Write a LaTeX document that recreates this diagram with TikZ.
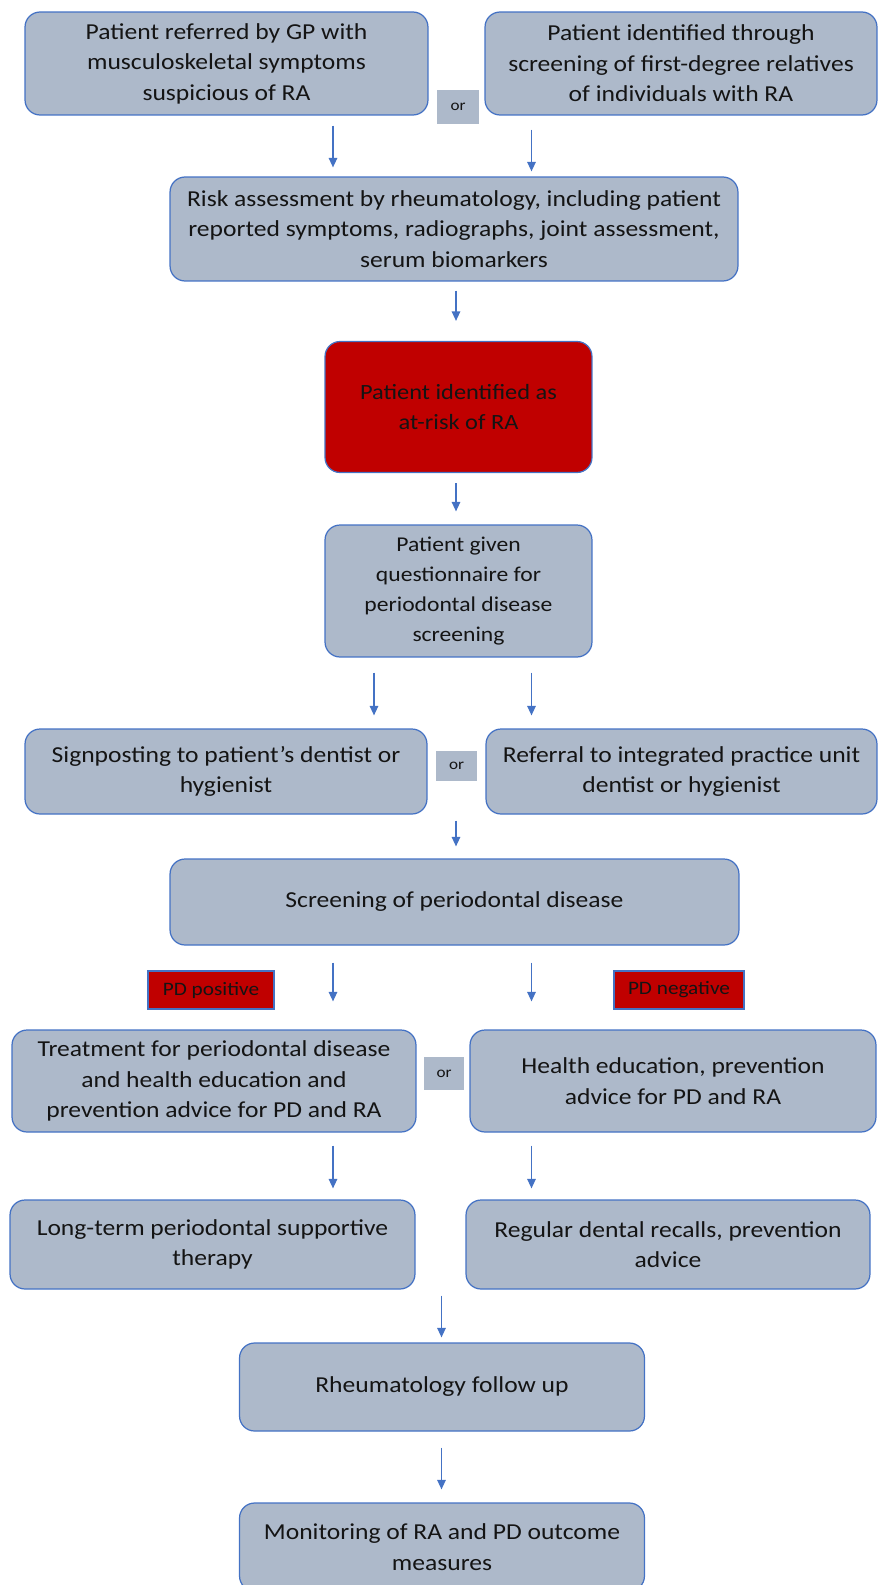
\documentclass[tikz,border=0pt]{standalone}
\usepackage{fontspec}
\setmainfont{Carlito}[FakeStretch=1.12]
\usetikzlibrary{arrows.meta}
\definecolor{edgeblue}{HTML}{4472C4}
\definecolor{boxgray}{HTML}{ADB9CA}
\definecolor{alertred}{HTML}{C00000}
\definecolor{inktext}{HTML}{141414}
\tikzset{
  stepbox/.style={rounded corners=0.3cm,draw=edgeblue,fill=boxgray,line width=0.7pt,inner sep=0pt,
    font=\fontsize{13}{17.4}\selectfont,text=inktext,align=center},
  alertbox/.style={stepbox,fill=alertred},
  orbox/.style={fill=boxgray,inner sep=0pt,font=\fontsize{8.7}{10}\selectfont,text=inktext},
  tagbox/.style={draw=edgeblue,fill=alertred,line width=0.6pt,inner sep=0pt,font=\fontsize{10.8}{12}\selectfont,text=inktext},
  arr/.style={-{Triangle[length=1.9mm,width=1.7mm]},draw=edgeblue,line width=0.8pt}
}
\begin{document}
\begin{tikzpicture}[x=0.02cm,y=-0.02cm]
\path[use as bounding box] (0,0) rectangle (878,1585);
% arrow columns
\coordinate (colA) at (333,0); \coordinate (colB) at (531.5,0);
\coordinate (colC) at (456,0); \coordinate (colD) at (374,0); \coordinate (colE) at (441.5,0);
% entry routes
\node[stepbox,minimum width=8.06cm,minimum height=2.06cm] (gp) at (226.5,63.5) {Patient referred by GP with\\musculoskeletal symptoms\\suspicious of RA};
\node[stepbox,minimum width=7.84cm,minimum height=2.06cm] (fdr) at (681,63.5) {Patient identified through\\screening of first-degree relatives\\of individuals with RA};
\node[orbox,minimum width=0.84cm,minimum height=0.68cm] (or1) at (458,107) {or};
\node[stepbox,minimum width=11.36cm,minimum height=2.08cm] (risk) at (454,229) {Risk assessment by rheumatology, including patient\\reported symptoms, radiographs, joint assessment,\\serum biomarkers};
\node[alertbox,minimum width=5.34cm,minimum height=2.62cm,font=\fontsize{12.4}{16.8}\selectfont] (atrisk) at (458.5,407) {Patient identified as\\at-risk of RA};
\node[stepbox,minimum width=5.34cm,minimum height=2.64cm,font=\fontsize{12}{17.2}\selectfont] (quest) at (458.5,591) {Patient given\\questionnaire for\\periodontal disease\\screening};
% dental pathway
\node[stepbox,minimum width=8.04cm,minimum height=1.7cm] (sign) at (226,771.5) {Signposting to patient’s dentist or\\hygienist};
\node[stepbox,minimum width=7.82cm,minimum height=1.7cm] (ipu) at (681.5,771.5) {Referral to integrated practice unit\\dentist or hygienist};
\node[orbox,minimum width=0.82cm,minimum height=0.6cm] (or2) at (456.5,766) {or};
\node[stepbox,minimum width=11.38cm,minimum height=1.72cm] (screen) at (454.5,902) {Screening of periodontal disease};
\node[tagbox,minimum width=2.52cm,minimum height=0.76cm] (pdpos) at (211,990) {PD positive};
\node[tagbox,minimum width=2.6cm,minimum height=0.76cm] (pdneg) at (679,990) {PD negative};
\node[stepbox,minimum width=8.08cm,minimum height=2.04cm] (treat) at (214,1081) {Treatment for periodontal disease\\and health education and\\prevention advice for PD and RA};
\node[stepbox,minimum width=8.12cm,minimum height=2.04cm] (educ) at (673,1081) {Health education, prevention\\advice for PD and RA};
\node[orbox,minimum width=0.8cm,minimum height=0.66cm] (or3) at (444,1073.5) {or};
\node[stepbox,minimum width=8.1cm,minimum height=1.78cm] (spt) at (212.5,1244.5) {Long-term periodontal supportive\\therapy};
\node[stepbox,minimum width=8.08cm,minimum height=1.78cm] (recall) at (668,1244.5) {Regular dental recalls, prevention\\advice};
% follow up
\node[stepbox,minimum width=8.1cm,minimum height=1.76cm] (rheum) at (442,1387) {Rheumatology follow up};
\node[stepbox,minimum width=8.1cm,minimum height=1.76cm] (monitor) at (442,1547) {Monitoring of RA and PD outcome\\measures};
% arrows
\draw[arr,shorten <=0.2cm,shorten >=0.18cm] (gp.south -| colA) -- (risk.north -| colA);
\draw[arr,shorten <=0.28cm,shorten >=0.1cm] (fdr.south -| colB) -- (risk.north -| colB);
\draw[arr,shorten <=0.18cm,shorten >=0.4cm] (risk.south -| colC) -- (atrisk.north -| colC);
\draw[arr,shorten <=0.2cm,shorten >=0.26cm] (atrisk.south -| colC) -- (quest.north -| colC);
\draw[arr,shorten <=0.3cm,shorten >=0.26cm] (quest.south -| colD) -- (sign.north -| colD);
\draw[arr,shorten <=0.3cm,shorten >=0.26cm] (quest.south -| colB) -- (ipu.north -| colB);
\draw[arr,shorten <=0.12cm,shorten >=0.24cm] (sign.south -| colC) -- (screen.north -| colC);
\draw[arr,shorten <=0.34cm,shorten >=0.56cm] (screen.south -| colA) -- (treat.north -| colA);
\draw[arr,shorten <=0.34cm,shorten >=0.56cm] (screen.south -| colB) -- (educ.north -| colB);
\draw[arr,shorten <=0.26cm,shorten >=0.22cm] (treat.south -| colA) -- (spt.north -| colA);
\draw[arr,shorten <=0.26cm,shorten >=0.22cm] (educ.south -| colB) -- (recall.north -| colB);
\draw[arr,shorten <=0.12cm,shorten >=0.1cm] (spt.south -| colE) -- (rheum.north -| colE);
\draw[arr,shorten <=0.32cm,shorten >=0.26cm] (rheum.south -| colE) -- (monitor.north -| colE);
\end{tikzpicture}
\end{document}
